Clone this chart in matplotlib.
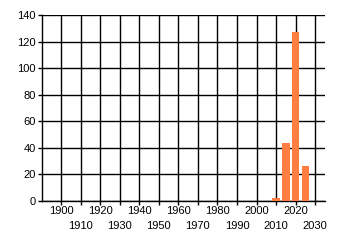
import matplotlib
matplotlib.use("Agg")
import matplotlib.pyplot as plt
from matplotlib.ticker import FixedLocator

years = [2010, 2015, 2020, 2025]
counts = [2, 44, 127, 26]
x_major = list(range(1900, 2021, 20))   # upper row of labels
x_minor = list(range(1910, 2031, 20))   # lower row of labels
y_ticks = list(range(0, 141, 20))

plt.rcParams['font.family'] = ['Liberation Sans', 'DejaVu Sans']

fig = plt.figure(figsize=(3.4, 2.45), dpi=100)
ax = fig.add_axes([42 / 340, 44 / 245, 283 / 340, 186 / 245])

ax.bar(years, counts, width=3.8, color="#FF7F41", zorder=3)

ax.set_xlim(1890.3, 2035)
ax.set_ylim(0, 140)
ax.set_xticks(x_major)
ax.set_xticklabels([str(y) for y in x_major])
ax.xaxis.set_minor_locator(FixedLocator(x_minor))
ax.set_xticklabels([str(y) for y in x_minor], minor=True)
ax.set_yticks(y_ticks)
ax.grid(True, which="both", color="black", linewidth=1, zorder=1)
ax.tick_params(axis="both", which="both", length=3, width=1, color="black", labelsize=8)
ax.tick_params(axis="y", pad=1.5)
ax.tick_params(axis="x", which="major", pad=0.5)
ax.tick_params(axis="x", which="minor", pad=11.5)

for side in ["top", "right"]:
    ax.spines[side].set_visible(False)
for side in ["left", "bottom"]:
    ax.spines[side].set_linewidth(1)

fig.savefig("out.png", dpi=100)
